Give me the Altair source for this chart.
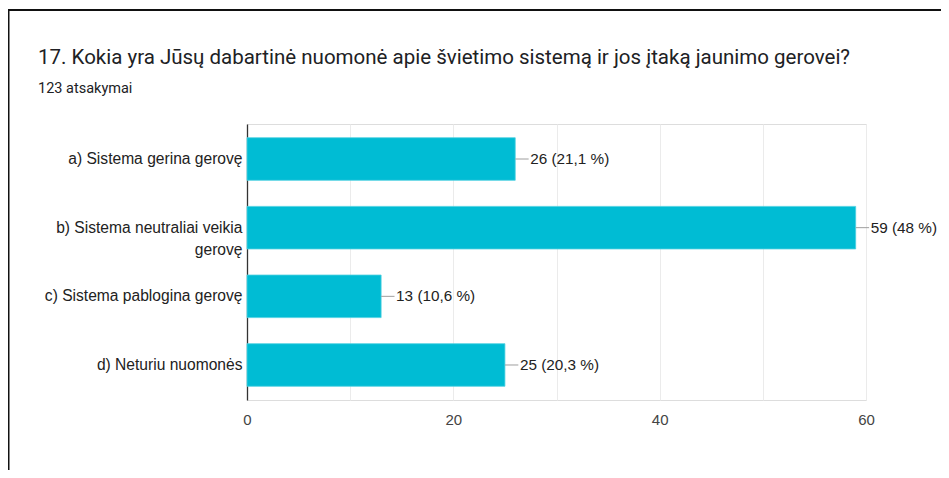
import altair as alt
import pandas as pd

categories = [
    "a) Sistema gerina gerovę",
    "b) Sistema neutraliai veikia gerovę",
    "c) Sistema pablogina gerovę",
    "d) Neturiu nuomonės",
]
counts = [26, 59, 13, 25]
percents = ["21,1", "48", "10,6", "20,3"]
x_ticks = [0, 10, 20, 30, 40, 50, 60]

title_text = "17. Kokia yra Jūsų dabartinė nuomonė apie švietimo sistemą ir jos įtaką jaunimo gerovei?"
subtitle_text = "123 atsakymai"

df = pd.DataFrame({
    "cat": categories,
    "count": counts,
    "label": [f"{c} ({p} %)" for c, p in zip(counts, percents)],
})

FONT = "Liberation Sans"
W, H = 619, 276

y_enc = alt.Y(
    "cat:N",
    sort=categories,
    title=None,
    scale=alt.Scale(paddingInner=0.38, paddingOuter=0.2),
    axis=alt.Axis(
        ticks=False,
        labelPadding=5,
        labelFontSize=15.6,
        labelFont=FONT,
        labelColor="#222222",
        labelLimit=400,
        labelLineHeight=22,
        domainColor="#333333",
        domainWidth=1.3,
        grid=False,
        labelExpr="datum.label == 'b) Sistema neutraliai veikia gerovę' ? ['b) Sistema neutraliai veikia', 'gerovę'] : datum.label",
    ),
)

x_scale = alt.Scale(domain=[0, 60], nice=False)

bars = alt.Chart(df).mark_bar(color="#00BCD4", stroke="#4DD0E1", strokeWidth=0.8).encode(
    x=alt.X(
        "count:Q",
        scale=x_scale,
        title=None,
        axis=alt.Axis(
            values=x_ticks,
            ticks=False,
            domain=False,
            grid=True,
            gridColor="#ebebeb",
            labelExpr="datum.value % 20 == 0 ? datum.label : ''",
            labelFlush=False,
            labelFontSize=15,
            labelFont=FONT,
            labelColor="#444444",
            labelPadding=12,
        ),
    ),
    y=y_enc,
)

leaders = alt.Chart(df).transform_calculate(
    lead_end="datum.count + 1.3"
).mark_rule(color="#9e9e9e", strokeWidth=1).encode(
    x=alt.X("count:Q", scale=x_scale),
    x2="lead_end:Q",
    y=alt.Y("cat:N", sort=categories),
)

texts = alt.Chart(df).mark_text(
    align="left", baseline="middle", dx=15, fontSize=15.3, font=FONT, color="#222222"
).encode(
    x=alt.X("count:Q", scale=x_scale),
    y=alt.Y("cat:N", sort=categories),
    text="label:N",
)

title_df = pd.DataFrame({"t": [title_text]})
sub_df = pd.DataFrame({"t": [subtitle_text]})

title_mark = alt.Chart(title_df).mark_text(
    align="left", baseline="alphabetic", fontSize=20.5, font="Roboto", color="#202124"
).encode(x=alt.value(-209), y=alt.value(-60), text="t:N")

sub_mark = alt.Chart(sub_df).mark_text(
    align="left", baseline="alphabetic", fontSize=14.5, font="Roboto", color="#202124"
).encode(x=alt.value(-209), y=alt.value(-31.5), text="t:N")

frame_top = alt.Chart(title_df).mark_rule(color="#111111", strokeWidth=2).encode(
    x=alt.value(-240), x2=alt.value(710), y=alt.value(-114)
)
frame_left = alt.Chart(title_df).mark_rule(color="#111111", strokeWidth=2).encode(
    x=alt.value(-238.5), y=alt.value(-115), y2=alt.value(360)
)

chart = alt.layer(bars, leaders, texts, title_mark, sub_mark, frame_top, frame_left).properties(
    width=W,
    height=H,
    autosize=alt.AutoSizeParams(type="none"),
    padding={"left": 239, "top": 116, "right": 75, "bottom": 70},
).configure_view(
    stroke="#e0e0e0", strokeWidth=1
).configure(background="white")

chart.save("out.html", embed_options={"renderer": "svg", "actions": False})
